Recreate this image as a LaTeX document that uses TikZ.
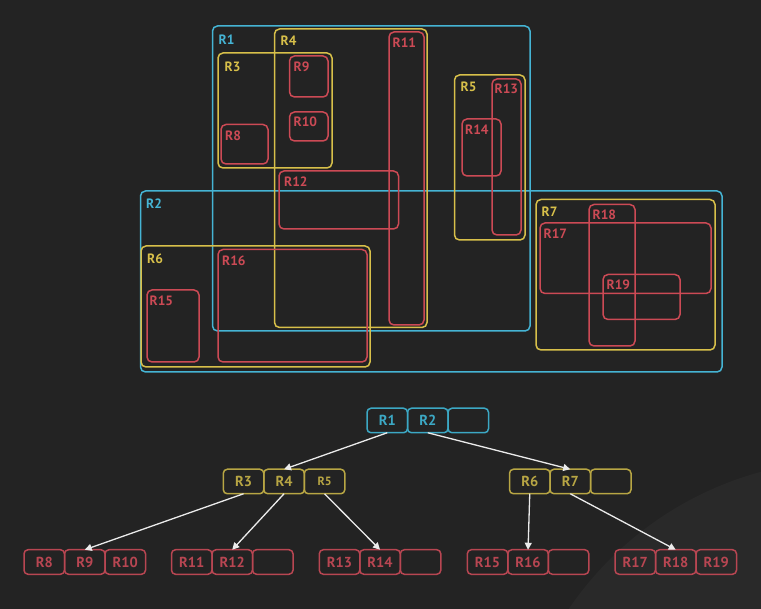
\documentclass[tikz,border=0pt]{standalone}
\usepackage{fontspec}
\setmainfont{PT Sans}
\usetikzlibrary{arrows.meta}
\definecolor{bg}{HTML}{232323}
\definecolor{bglight}{HTML}{292929}
\definecolor{cy}{HTML}{45B4D4}
\definecolor{ye}{HTML}{D8C04A}
\definecolor{rd}{HTML}{CC4A55}
\definecolor{tcy}{HTML}{3CA8C4}
\definecolor{tye}{HTML}{B8A644}
\definecolor{trd}{HTML}{B84652}
\begin{document}
\begin{tikzpicture}[x=1pt,y=-1pt,
  region/.style={line width=1.5pt, rounded corners=5pt},
  rlabel/.style={anchor=north west, inner sep=0pt, font=\fontsize{13.5}{13.5}\selectfont\bfseries},
  cell/.style={draw, line width=1.5pt, rounded corners=4pt, minimum width=40.5pt,
    minimum height=24.5pt, inner sep=0pt, outer sep=0pt, anchor=west,
    font=\fontsize{14.5}{14.5}\selectfont\bfseries},
  cyc/.style={cell, draw=tcy, text=tcy},
  yec/.style={cell, draw=tye, text=tye},
  rdc/.style={cell, draw=trd, text=trd},
  link/.style={draw=white!92!black, line width=1.3pt, -{Triangle[length=7pt,width=7pt]}}
]
\fill[bg] (0,0) rectangle (761,609);
\useasboundingbox (0,0) rectangle (761,609);
\begin{scope}
  \clip (0,0) rectangle (761,609);
  \fill[bglight] (850,800) circle[radius=340pt];
\end{scope}

% cyan regions
\draw[region, cy] (212.5,26) rectangle (530,331);
\node[rlabel, text=cy] (l1) at (218.5,34.5) {R1};
\draw[region, cy] (140.5,191) rectangle (722,372);
\node[rlabel, text=cy] (l2) at (146,198.5) {R2};

% yellow regions
\draw[region, ye] (274.5,29) rectangle (427,327.5);
\node[rlabel, text=ye] (l4) at (280.5,35.5) {R4};
\draw[region, ye] (218,53) rectangle (332,168);
\node[rlabel, text=ye] (l3) at (224.5,61.5) {R3};
\draw[region, ye] (454.5,75) rectangle (525,240);
\node[rlabel, text=ye] (l5) at (460.5,81.5) {R5};
\draw[region, ye] (141,246) rectangle (370,367);
\node[rlabel, text=ye] (l6) at (147,253.5) {R6};
\draw[region, ye] (536,199.5) rectangle (715,350);
\node[rlabel, text=ye] (l7) at (541.5,206.5) {R7};

% red regions
\draw[region, rd] (389,32) rectangle (424,325);
\node[rlabel, text=rd] (l11) at (392.5,38) {R11};
\draw[region, rd] (289.5,56) rectangle (328,97);
\node[rlabel, text=rd] (l9) at (293.5,62) {R9};
\draw[region, rd] (289.5,112) rectangle (328,141);
\node[rlabel, text=rd] (l10) at (293.5,117) {R10};
\draw[region, rd] (221,124.5) rectangle (268,164);
\node[rlabel, text=rd] (l8) at (225,130.5) {R8};
\draw[region, rd] (279,171) rectangle (398.5,229);
\node[rlabel, text=rd] (l12) at (284,177) {R12};
\draw[region, rd] (492,79) rectangle (521,235);
\node[rlabel, text=rd] (l13) at (494.5,84) {R13};
\draw[region, rd] (462,119) rectangle (501,176);
\node[rlabel, text=rd] (l14) at (465,124.5) {R14};
\draw[region, rd] (147,290) rectangle (199,362);
\node[rlabel, text=rd] (l15) at (149.5,295.5) {R15};
\draw[region, rd] (218,249.5) rectangle (367,362);
\node[rlabel, text=rd] (l16) at (222,255.5) {R16};
\draw[region, rd] (589,204.5) rectangle (635,346);
\node[rlabel, text=rd] (l18) at (592.5,209.5) {R18};
\draw[region, rd] (540,223) rectangle (711,293.5);
\node[rlabel, text=rd] (l17) at (543.5,228.5) {R17};
\draw[region, rd] (603,274.5) rectangle (680,319.5);
\node[rlabel, text=rd] (l19) at (606.5,280) {R19};

% tree: root
\node[cyc] (t1) at (367,420.5) {R1};
\node[cyc] (t2) at (t1.east) {R2};
\node[cyc] (te0) at (t2.east) {};

% level 2
\node[yec] (t3) at (223.3,481.5) {R3};
\node[yec] (t4) at (t3.east) {R4};
\node[yec, font=\fontsize{12}{12}\selectfont\bfseries] (t5) at (t4.east) {R5};
\node[yec] (t6) at (509.5,481.5) {R6};
\node[yec] (t7) at (t6.east) {R7};
\node[yec] (te1) at (t7.east) {};

% leaves
\node[rdc] (t8) at (24,562) {R8};
\node[rdc] (t9) at (t8.east) {R9};
\node[rdc] (t10) at (t9.east) {R10};
\node[rdc] (t11) at (171.5,562) {R11};
\node[rdc] (t12) at (t11.east) {R12};
\node[rdc] (te2) at (t12.east) {};
\node[rdc] (t13) at (319.3,562) {R13};
\node[rdc] (t14) at (t13.east) {R14};
\node[rdc] (te3) at (t14.east) {};
\node[rdc] (t15) at (467.3,562) {R15};
\node[rdc] (t16) at (t15.east) {R16};
\node[rdc] (te4) at (t16.east) {};
\node[rdc] (t17) at (615,562) {R17};
\node[rdc] (t18) at (t17.east) {R18};
\node[rdc] (t19) at (t18.east) {R19};

% links
\draw[link] (t1.south) -- (t4.north);
\draw[link] (t2.south) -- (t7.north);
\draw[link] (t3.south) -- (t9.north);
\draw[link] (t4.south) -- (t12.north);
\draw[link] (t5.south) -- (t14.north);
\draw[link] (t6.south) -- (t16.north);
\draw[link] (t7.south) -- (t18.north);
\end{tikzpicture}
\end{document}
